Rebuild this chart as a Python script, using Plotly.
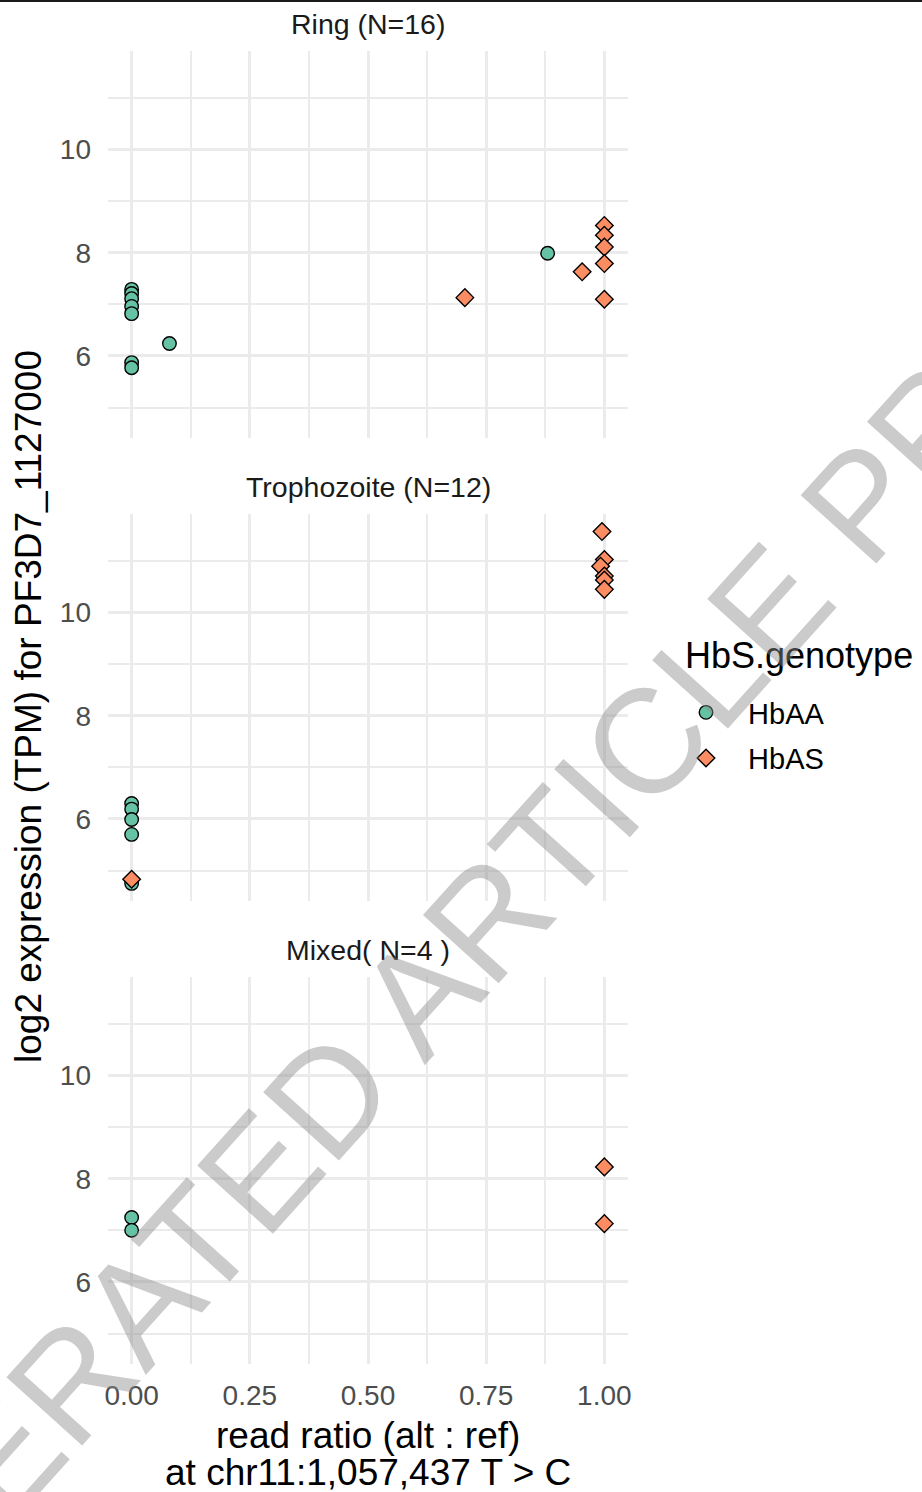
import plotly.graph_objects as go

# ---- data -------------------------------------------------------------
stages = ["Ring (N=16)", "Trophozoite (N=12)", "Mixed( N=4 )"]
genotypes = ["HbAA", "HbAS"]

# read ratio (alt : ref) at chr11:1,057,437 and log2 TPM of PF3D7_1127000
ring_hbaa_ratio = [0, 0, 0, 0, 0, 0, 0, 0.08, 0.88]
ring_hbaa_expr = [7.29, 7.21, 7.11, 6.96, 6.82, 5.87, 5.77, 6.24, 7.99]
ring_hbas_ratio = [0.705, 0.953, 1, 1, 1, 1, 1]
ring_hbas_expr = [7.13, 7.63, 8.53, 8.34, 8.11, 7.79, 7.10]

troph_hbaa_ratio = [0, 0, 0, 0, 0]
troph_hbaa_expr = [6.30, 6.19, 5.99, 5.70, 4.75]
troph_hbas_ratio = [0, 0.995, 1, 0.992, 1, 1, 1]
troph_hbas_expr = [4.83, 11.57, 11.03, 10.90, 10.71, 10.63, 10.45]

mixed_hbaa_ratio = [0, 0]
mixed_hbaa_expr = [7.25, 7.00]
mixed_hbas_ratio = [1, 1]
mixed_hbas_expr = [8.23, 7.13]

x_ticks = [0, 0.25, 0.5, 0.75, 1.0]
x_tick_labels = ["0.00", "0.25", "0.50", "0.75", "1.00"]
y_ticks = [6, 8, 10]
y_tick_labels = ["6", "8", "10"]

# ---- styling ----------------------------------------------------------
W, H = 922, 1492
FONT = "Liberation Sans, Arial, Helvetica, sans-serif"
fill = {"HbAA": "#66C2A5", "HbAS": "#FC8D62"}
symbol = {"HbAA": "circle", "HbAS": "diamond"}
GRID = "#EBEBEB"
NBSP = "\u00a0"

panel_left, panel_right = 108, 628
panel_tops = [51, 514, 977]
panel_h = 387

stage_data = {
    stages[0]: {"HbAA": (ring_hbaa_ratio, ring_hbaa_expr),
                "HbAS": (ring_hbas_ratio, ring_hbas_expr)},
    stages[1]: {"HbAA": (troph_hbaa_ratio, troph_hbaa_expr),
                "HbAS": (troph_hbas_ratio, troph_hbas_expr)},
    stages[2]: {"HbAA": (mixed_hbaa_ratio, mixed_hbaa_expr),
                "HbAS": (mixed_hbas_ratio, mixed_hbas_expr)},
}

# shared scales with a 5% expansion on each side
all_x = [v for s in stage_data.values() for g in s.values() for v in g[0]]
all_y = [v for s in stage_data.values() for g in s.values() for v in g[1]]
xs = max(all_x) - min(all_x)
ys = max(all_y) - min(all_y)
x_range = [min(all_x) - 0.05 * xs, max(all_x) + 0.05 * xs]
y_range = [min(all_y) - 0.05 * ys, max(all_y) + 0.05 * ys]

fig = go.Figure()

for i, stage in enumerate(stages):
    suffix = "" if i == 0 else str(i + 1)
    for g in genotypes:
        gx, gy = stage_data[stage][g]
        fig.add_trace(go.Scatter(
            x=gx, y=gy, mode="markers",
            xaxis="x" + suffix, yaxis="y" + suffix,
            name=NBSP * 2 + g, legendgroup=g, showlegend=(i == 0),
            marker=dict(symbol=symbol[g], size=13.5, color=fill[g],
                        line=dict(color="black", width=1.4)),
        ))

layout = dict(
    width=W, height=H, autosize=False,
    margin=dict(l=0, r=0, t=0, b=0),
    paper_bgcolor="white", plot_bgcolor="white",
    template="none",
    font=dict(family=FONT, color="black"),
    showlegend=True,
    legend=dict(
        x=680 / W, xanchor="left", y=1 - 687 / H, yanchor="top",
        font=dict(size=29, color="black"),
        itemwidth=42, tracegroupgap=5,
        bgcolor="rgba(0,0,0,0)", borderwidth=0,
    ),
)

annotations = []
for i, stage in enumerate(stages):
    suffix = "" if i == 0 else str(i + 1)
    top = panel_tops[i]
    dom_y = [1 - (top + panel_h) / H, 1 - top / H]
    layout["xaxis" + suffix] = dict(
        domain=[panel_left / W, panel_right / W], anchor="y" + suffix,
        range=x_range, tickmode="array", tickvals=x_ticks,
        ticktext=x_tick_labels, showticklabels=(i == 2),
        ticks="", ticklabelstandoff=12,
        tickfont=dict(size=28, color="#4D4D4D", family=FONT),
        showgrid=True, gridcolor=GRID, gridwidth=2.8,
        minor=dict(dtick=0.125, tick0=0, showgrid=True,
                   gridcolor=GRID, gridwidth=1.7, ticks=""),
        zeroline=False, showline=False, fixedrange=True,
    )
    layout["yaxis" + suffix] = dict(
        domain=dom_y, anchor="x" + suffix,
        range=y_range, tickmode="array", tickvals=y_ticks,
        ticktext=y_tick_labels, ticks="", ticklabelstandoff=16,
        tickfont=dict(size=28, color="#4D4D4D", family=FONT),
        showgrid=True, gridcolor=GRID, gridwidth=2.8,
        minor=dict(dtick=1, tick0=0, showgrid=True,
                   gridcolor=GRID, gridwidth=1.7, ticks=""),
        zeroline=False, showline=False, fixedrange=True,
    )
    # facet strip label
    annotations.append(dict(
        text=stage, xref="paper", yref="paper",
        x=(panel_left + panel_right) / 2 / W, y=1 - (top - 27) / H,
        xanchor="center", yanchor="middle", showarrow=False,
        font=dict(size=28.5, color="#1A1A1A", family=FONT),
    ))

# legend heading
annotations.append(dict(
    text="HbS.genotype", xref="paper", yref="paper",
    x=683 / W, y=1 - 655 / H, xanchor="left", yanchor="middle",
    showarrow=False, font=dict(size=36, color="black", family=FONT),
))

# axis titles
annotations.append(dict(
    text="log2 expression (TPM) for PF3D7_1127000",
    xref="paper", yref="paper", x=28 / W, y=1 - 707 / H,
    xanchor="center", yanchor="middle", textangle=-90, showarrow=False,
    font=dict(size=37, color="black", family=FONT),
))
annotations.append(dict(
    text="read ratio (alt : ref)", xref="paper", yref="paper",
    x=(panel_left + panel_right) / 2 / W, y=1 - 1435 / H,
    xanchor="center", yanchor="middle", showarrow=False,
    font=dict(size=37, color="black", family=FONT),
))
annotations.append(dict(
    text="at chr11:1,057,437 T > C", xref="paper", yref="paper",
    x=(panel_left + panel_right) / 2 / W, y=1 - 1472 / H,
    xanchor="center", yanchor="middle", showarrow=False,
    font=dict(size=37, color="black", family=FONT),
))

# diagonal preview watermark
annotations.append(dict(
    text="GENERATED ARTICLE PREVIEW", xref="paper", yref="paper",
    x=521 / W, y=1 - 882 / H, xanchor="center", yanchor="middle",
    textangle=-48, showarrow=False,
    font=dict(size=148, color="rgba(140,140,140,0.45)", family=FONT),
))

layout["annotations"] = annotations
layout["shapes"] = [dict(
    type="rect", xref="paper", yref="paper", x0=0, x1=1,
    y0=1 - 2 / H, y1=1, fillcolor="#1A1A1A", line=dict(width=0),
)]

fig.update_layout(**layout)
fig.write_html("out.html")
